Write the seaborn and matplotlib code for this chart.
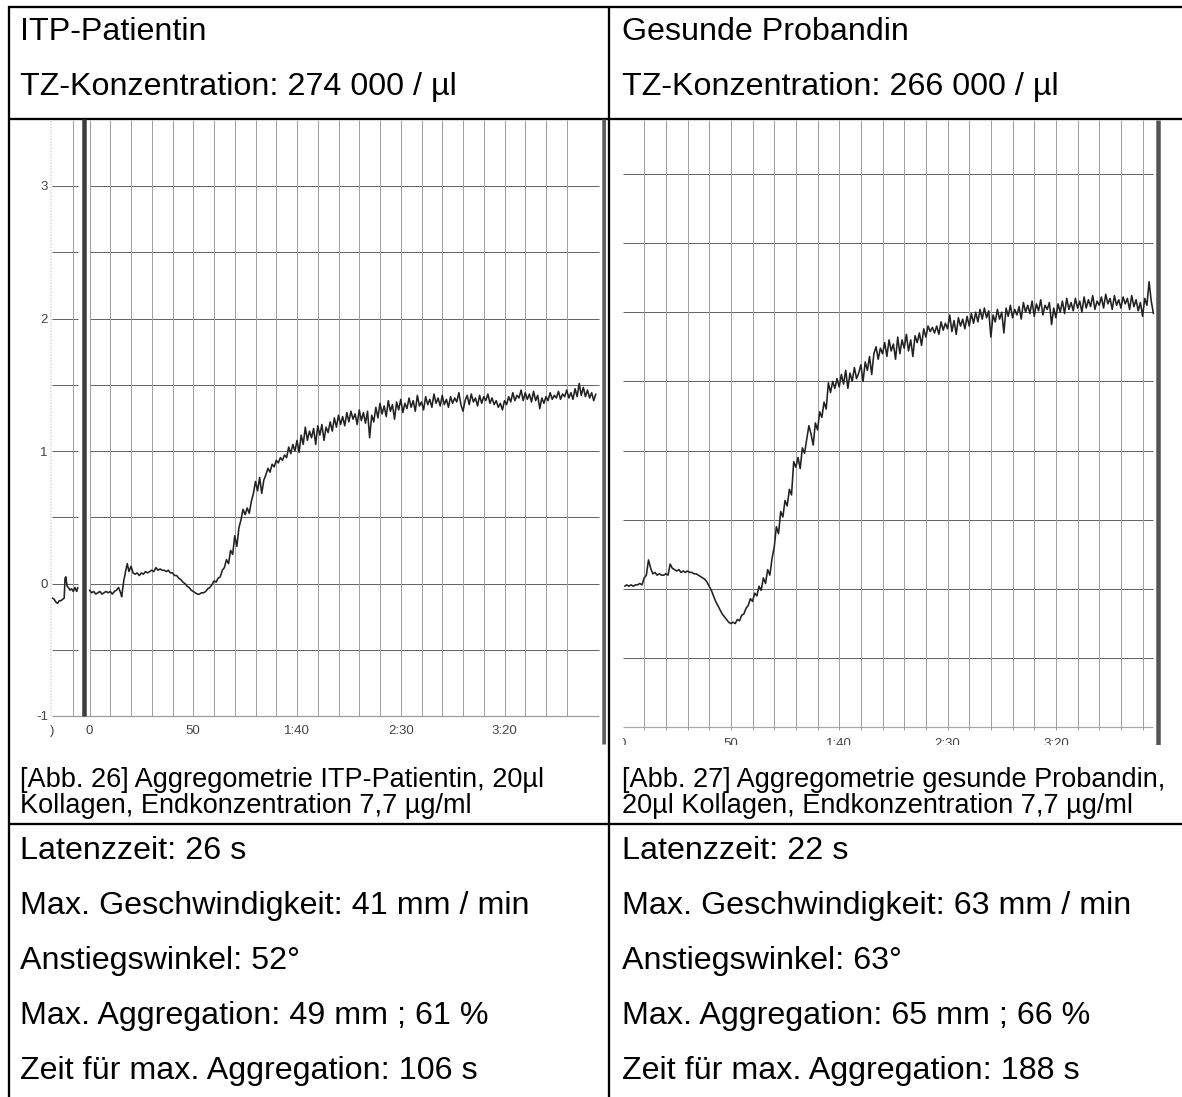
import numpy as np
import pandas as pd
import matplotlib
matplotlib.use("Agg")
import matplotlib.pyplot as plt
import seaborn as sns

sns.set_theme(style="white")
plt.rcParams['font.family'] = ['Liberation Sans', 'DejaVu Sans']

# ---------------- data ----------------
# ITP patient: short pre-recording segment (s, light transmission units)
itp_pre_t = [-17.8, -17, -16.2, -15.4, -14.6, -13.8, -13, -12.2, -11.8, -11.4,
             -10.8, -10.2, -9.4, -8.6, -7.8, -7, -6.2, -5.6]
itp_pre_v = [-0.11, -0.12, -0.14, -0.15, -0.13, -0.13, -0.12, -0.11, 0.04, 0.05,
             -0.02, -0.03, -0.05, -0.04, -0.06, -0.03, -0.06, -0.03]

# ITP patient main trace
itp_t = ([0, 1, 2, 3, 4, 5, 6, 7, 8, 9, 10, 11, 12, 13, 14, 15,
          15.5, 16.5, 17.5, 18.2] + list(range(19, 61)) + list(range(61, 245)))
itp_v = [-0.05, -0.07, -0.06, -0.08, -0.07, -0.06, -0.08, -0.07, -0.06, -0.07,
         -0.06, -0.08, -0.06, -0.05, -0.03, -0.07,
         -0.10, 0.02, 0.10, 0.15,
         0.09, 0.13, 0.08, 0.07, 0.08, 0.06, 0.08, 0.07, 0.09, 0.08,
         0.09, 0.10, 0.09, 0.12, 0.10, 0.11, 0.10, 0.10, 0.09, 0.10,
         0.08, 0.08, 0.06, 0.06, 0.04, 0.03, 0.01, 0.00, -0.02, -0.03,
         -0.05, -0.06, -0.07, -0.08, -0.08, -0.07, -0.07, -0.06, -0.04, -0.03,
         -0.01, 0.02,
         0.01, 0.04, 0.05, 0.10, 0.12, 0.18, 0.15, 0.25, 0.22, 0.36,
         0.28, 0.42, 0.48, 0.56, 0.52, 0.57, 0.53, 0.62, 0.68, 0.77,
         0.70, 0.80, 0.68, 0.78, 0.82, 0.87, 0.84, 0.90, 0.88, 0.93,
         0.91, 0.95, 0.93, 0.97, 0.95, 1.03, 0.98, 1.05, 1.00, 1.08,
         0.99, 1.12, 1.05, 1.18, 1.08, 1.15, 1.10, 1.17, 1.05, 1.19,
         1.12, 1.20, 1.08, 1.18, 1.14, 1.22, 1.15, 1.25, 1.18, 1.27,
         1.20, 1.26, 1.19, 1.29, 1.22, 1.30, 1.24, 1.28, 1.20, 1.31,
         1.23, 1.29, 1.21, 1.30, 1.10, 1.27, 1.22, 1.33, 1.25, 1.36,
         1.28, 1.34, 1.26, 1.38, 1.30, 1.35, 1.24, 1.37, 1.31, 1.39,
         1.29, 1.36, 1.32, 1.40, 1.33, 1.38, 1.30, 1.42, 1.34, 1.37,
         1.31, 1.41, 1.35, 1.39, 1.33, 1.43, 1.36, 1.40, 1.34, 1.42,
         1.35, 1.39, 1.33, 1.41, 1.36, 1.40, 1.37, 1.44, 1.35, 1.30,
         1.38, 1.42, 1.35, 1.43, 1.37, 1.40, 1.34, 1.42, 1.36, 1.41,
         1.38, 1.43, 1.36, 1.40, 1.35, 1.38, 1.33, 1.36, 1.31, 1.38,
         1.35, 1.41, 1.37, 1.44, 1.38, 1.42, 1.40, 1.46, 1.38, 1.44,
         1.39, 1.43, 1.37, 1.45, 1.38, 1.42, 1.32, 1.40, 1.36, 1.41,
         1.38, 1.44, 1.39, 1.42, 1.40, 1.45, 1.39, 1.43, 1.41, 1.46,
         1.40, 1.44, 1.39, 1.47, 1.41, 1.51, 1.42, 1.48, 1.41, 1.46,
         1.40, 1.44, 1.38, 1.43]

# healthy volunteer trace
hp_t = list(range(1, 246))
hp_v = [0.02, 0.03, 0.02, 0.03, 0.02, 0.03, 0.03, 0.04, 0.03, 0.08,
        0.10, 0.21, 0.15, 0.11, 0.12, 0.10, 0.11, 0.10, 0.10, 0.11,
        0.10, 0.18, 0.15, 0.14, 0.13, 0.14, 0.12, 0.13, 0.12, 0.13,
        0.12, 0.12, 0.11, 0.11, 0.10, 0.09, 0.08, 0.07, 0.05, 0.02,
        -0.01, -0.05, -0.09, -0.12, -0.15, -0.18, -0.20, -0.22, -0.24, -0.25,
        -0.24, -0.25, -0.22, -0.23, -0.19, -0.18, -0.14, -0.12, -0.07, -0.09,
        -0.03, -0.05, 0.02, -0.01, 0.08, 0.04, 0.14, 0.10, 0.22, 0.30,
        0.45, 0.40, 0.56, 0.52, 0.64, 0.60, 0.72, 0.68, 0.92, 0.88,
        0.95, 0.87, 1.02, 0.98, 1.08, 1.18, 1.12, 1.04, 1.20, 1.15,
        1.28, 1.24, 1.35, 1.30, 1.49, 1.42, 1.50, 1.45, 1.52, 1.46,
        1.55, 1.48, 1.58, 1.45, 1.56, 1.50, 1.60, 1.52, 1.56, 1.62,
        1.50, 1.64, 1.58, 1.68, 1.55, 1.70, 1.75, 1.66, 1.74, 1.70,
        1.78, 1.68, 1.80, 1.72, 1.77, 1.66, 1.82, 1.70, 1.80, 1.74,
        1.84, 1.72, 1.80, 1.68, 1.83, 1.78, 1.85, 1.76, 1.88, 1.82,
        1.90, 1.86, 1.89, 1.85, 1.90, 1.84, 1.93, 1.87, 1.92, 1.88,
        1.98, 1.86, 1.94, 1.84, 1.96, 1.90, 1.95, 1.88, 1.97, 1.90,
        1.99, 1.92, 2.00, 1.93, 2.02, 1.95, 2.03, 1.96, 2.01, 1.82,
        1.98, 1.93, 2.02, 1.95, 2.00, 1.85, 2.03, 1.97, 2.05, 1.96,
        2.02, 1.98, 2.04, 1.95, 2.07, 2.00, 2.05, 1.99, 2.08, 1.97,
        2.06, 2.01, 2.09, 1.98, 2.05, 2.02, 2.07, 1.91, 2.03, 1.96,
        2.06, 2.00, 2.08, 1.99, 2.10, 2.02, 2.07, 2.01, 2.10, 2.03,
        2.08, 2.00, 2.11, 2.03, 2.09, 2.04, 2.12, 2.02, 2.08, 2.05,
        2.11, 2.03, 2.13, 2.06, 2.10, 2.02, 2.12, 2.05, 2.09, 2.03,
        2.11, 2.06, 2.10, 2.02, 2.12, 2.04, 2.09, 2.01, 2.07, 1.97,
        2.10, 2.05, 2.22, 2.08, 1.99]

ytick_vals = [3, 2, 1, 0, -1]
ytick_labels = ["3", "2", "1", "0", "-1"]
xtick_vals = [0, 50, 100, 150, 200]
xtick_labels = ["0", "50", "1:40", "2:30", "3:20"]
grid_levels = [3, 2.5, 2, 1.5, 1, 0.5, 0, -0.5]
grid_times = list(range(0, 250, 10))

header_left = ["ITP-Patientin", "TZ-Konzentration: 274 000 / µl"]
header_right = ["Gesunde Probandin", "TZ-Konzentration: 266 000 / µl"]
caption_left = ["[Abb. 26] Aggregometrie ITP-Patientin, 20µl",
                "Kollagen, Endkonzentration 7,7 µg/ml"]
caption_right = ["[Abb. 27] Aggregometrie gesunde Probandin,",
                 "20µl Kollagen, Endkonzentration 7,7 µg/ml"]
stats_left = ["Latenzzeit: 26 s", "Max. Geschwindigkeit: 41 mm / min",
              "Anstiegswinkel: 52°", "Max. Aggregation: 49 mm ; 61 %",
              "Zeit für max. Aggregation: 106 s"]
stats_right = ["Latenzzeit: 22 s", "Max. Geschwindigkeit: 63 mm / min",
               "Anstiegswinkel: 63°", "Max. Aggregation: 65 mm ; 66 %",
               "Zeit für max. Aggregation: 188 s"]

# ---------------- figure ----------------
W, H = 1182, 1097
fig = plt.figure(figsize=(W / 100, H / 100), dpi=100)
fig.patch.set_facecolor("white")
bg = fig.add_axes([0, 0, 1, 1])
bg.set_xlim(0, W)
bg.set_ylim(H, 0)
bg.axis("off")


def px_axes(x0, y0, x1, y1):
    a = fig.add_axes([x0 / W, 1 - y1 / H, (x1 - x0) / W, (y1 - y0) / H])
    a.patch.set_alpha(0)
    for s in a.spines.values():
        s.set_visible(False)
    return a


PT = 0.72  # points per pixel
LW_TABLE = 2.3 * PT

# table rules
for y in (7, 118.5, 824):
    bg.plot([8, W], [y, y], color="black", lw=LW_TABLE, solid_capstyle="butt")
for x in (9, 609):
    bg.plot([x, x], [6, H], color="black", lw=LW_TABLE, solid_capstyle="butt")

TXT = dict(color="black", va="baseline", ha="left")
for i, (l, r) in enumerate(zip(header_left, header_right)):
    yb = [40, 95][i]
    bg.text(20, yb, l, fontsize=23.2, **TXT)
    bg.text(622, yb, r, fontsize=23.2, **TXT)
for i, (l, r) in enumerate(zip(caption_left, caption_right)):
    yb = [787, 813][i]
    bg.text(20, yb, l, fontsize=19.5, **TXT)
    bg.text(622, yb, r, fontsize=19.5, **TXT)
for i, (l, r) in enumerate(zip(stats_left, stats_right)):
    yb = 859 + 55 * i
    bg.text(20, yb, l, fontsize=23.2, **TXT)
    bg.text(622, yb, r, fontsize=23.2, **TXT)

GRID_H = "#666666"
GRID_V = "#a0a0a0"
LBL = "#444444"
CURVE = "#222222"
LW_CURVE = 1.6 * PT
FS_TICK = 9.5

# ---------------- left chart (ITP) ----------------
X0L, SXL, Y0L, SYL = 89.5, 2.075, 583.5, 132.5
tL = lambda px: (px - X0L) / SXL
vL = lambda py: (Y0L - py) / SYL
ax1 = px_axes(50, 119, 606, 745)
ax1.set_xlim(tL(50), tL(606))
ax1.set_ylim(vL(745), vL(119))

ax1.hlines(grid_levels, tL(52), tL(78), color=GRID_H, lw=1.0 * PT, zorder=1)
ax1.hlines(grid_levels, 0, tL(599), color=GRID_H, lw=1.0 * PT, zorder=1)
ax1.hlines([-1], tL(52), tL(599), color="#9a9a9a", lw=1.2 * PT, zorder=1)
ax1.vlines([tL(73)] + grid_times[:-1], -1, vL(120), color=GRID_V, lw=1.0 * PT, zorder=1)
ax1.vlines([tL(51)], -1, vL(120), color="#d8d8d8", lw=1.5 * PT, linestyles=(0, (1, 1)), zorder=1)
ax1.vlines([tL(84)], -1, vL(119), color="#3c3c3c", lw=4.5 * PT, zorder=4)
ax1.vlines([tL(603.5)], vL(744), vL(119), color="#5e5e5e", lw=4.5 * PT, zorder=4)

sns.lineplot(x=itp_pre_t, y=itp_pre_v, ax=ax1, color=CURVE, lw=LW_CURVE,
             estimator=None, sort=False, zorder=3)
sns.lineplot(x=itp_t, y=itp_v, ax=ax1, color=CURVE, lw=LW_CURVE,
             estimator=None, sort=False, zorder=3)

ax1.set_yticks(ytick_vals)
ax1.set_yticklabels(ytick_labels)
ax1.tick_params(axis="y", length=0, pad=1.5, labelsize=FS_TICK, labelcolor=LBL)
ax1.set_xticks([])
ax1.set_xlabel("")
ax1.set_ylabel("")
for xv, lab in zip(xtick_vals, xtick_labels):
    ax1.text(xv, vL(725), lab, ha="center", va="top", fontsize=FS_TICK, color=LBL)
ax1.text(tL(52), vL(725), ")", ha="center", va="top", fontsize=FS_TICK, color=LBL)

# ---------------- right chart (healthy) ----------------
X0R, SXR, Y0R, SYR = 622.5, 2.167, 589, 138.4
tR = lambda px: (px - X0R) / SXR
vR = lambda py: (Y0R - py) / SYR
ax2 = px_axes(623, 119, 1165, 745)
ax2.set_xlim(tR(623), tR(1165))
ax2.set_ylim(vR(745), vR(119))

ax2.hlines(grid_levels, tR(623), tR(1153), color=GRID_H, lw=1.0 * PT, zorder=1)
ax2.hlines([-1], tR(623), tR(1153), color="#a8a8a8", lw=1.2 * PT, zorder=1)
ax2.vlines(grid_times[1:], vR(730), vR(120), color=GRID_V, lw=1.0 * PT, zorder=1)
ax2.vlines([tR(1158)], vR(745), vR(120), color="#555555", lw=4.5 * PT, zorder=4)

sns.lineplot(x=hp_t, y=hp_v, ax=ax2, color=CURVE, lw=LW_CURVE,
             estimator=None, sort=False, zorder=3)
ax2.set_xticks([])
ax2.set_yticks([])
ax2.set_xlabel("")
ax2.set_ylabel("")
for xv, lab in zip(xtick_vals, xtick_labels):
    ax2.text(xv, vR(738), lab, ha="center", va="top", fontsize=FS_TICK, color=LBL,
             clip_on=True)

fig.savefig("out.png", dpi=100, facecolor="white")
